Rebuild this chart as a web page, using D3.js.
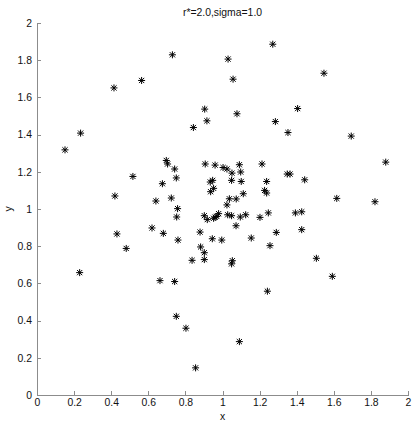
<!DOCTYPE html>
<html>
<head>
<meta charset="utf-8">
<script src="https://cdn.jsdelivr.net/npm/d3@7"></script>
<style>
  body { margin: 0; background: #fff; }
  svg text { font-family: "Liberation Sans", Arial, sans-serif; fill: #111; }
  .axis path, .axis line { stroke: #8c8c8c; shape-rendering: crispEdges; }
  .axis text { font-size: 10.4px; }
</style>
</head>
<body>
<div id="chart"></div>
<script>
// scatter points
const xs = [1.271, 0.730, 1.030, 1.547, 0.564, 1.057, 0.415, 0.904, 1.405, 0.843,
  0.916, 1.078, 1.285, 1.353, 1.694, 0.235, 0.151, 1.880, 0.697, 0.704,
  0.742, 0.517, 0.751, 0.676, 0.420, 0.724, 0.641, 0.758, 0.753, 0.620,
  0.431, 0.681, 0.760, 0.481, 0.907, 0.960, 1.003, 1.024, 1.051, 1.091,
  1.098, 1.213, 1.349, 1.364, 0.934, 0.947, 1.049, 1.101, 1.238, 0.936,
  0.952, 1.227, 1.238, 1.112, 1.037, 1.074, 1.024, 1.393, 1.427, 1.427,
  1.247, 1.202, 1.125, 1.096, 1.049, 1.028, 1.073, 0.902, 0.918, 0.960,
  0.969, 0.979, 0.952, 0.879, 0.945, 0.996, 1.155, 0.882, 0.902, 1.290,
  1.256, 1.443, 1.616, 1.822, 1.506, 0.836, 0.902, 1.053, 1.049, 0.230,
  0.663, 0.742, 1.592, 1.242, 0.751, 0.803, 1.091, 0.855];
const ys = [1.886, 1.829, 1.806, 1.730, 1.691, 1.698, 1.651, 1.537, 1.540, 1.438,
  1.474, 1.512, 1.470, 1.411, 1.392, 1.408, 1.318, 1.252, 1.261, 1.242,
  1.215, 1.175, 1.167, 1.136, 1.070, 1.059, 1.043, 1.002, 0.957, 0.898,
  0.866, 0.869, 0.833, 0.788, 1.242, 1.236, 1.223, 1.215, 1.193, 1.238,
  1.199, 1.242, 1.188, 1.188, 1.145, 1.154, 1.154, 1.148, 1.148, 1.093,
  1.111, 1.100, 1.086, 1.082, 1.055, 1.054, 1.022, 0.979, 0.985, 0.889,
  0.979, 0.955, 0.969, 0.957, 0.964, 0.969, 0.910, 0.964, 0.943, 0.956,
  0.960, 0.975, 0.950, 0.876, 0.840, 0.833, 0.844, 0.796, 0.765, 0.874,
  0.803, 1.157, 1.057, 1.039, 0.735, 0.724, 0.728, 0.722, 0.705, 0.658,
  0.615, 0.610, 0.638, 0.558, 0.423, 0.359, 0.287, 0.146];
const xTicks = [0, 0.2, 0.4, 0.6, 0.8, 1, 1.2, 1.4, 1.6, 1.8, 2];
const yTicks = [0, 0.2, 0.4, 0.6, 0.8, 1, 1.2, 1.4, 1.6, 1.8, 2];
const title = 'r*=2.0,sigma=1.0';

const W = 415, H = 426;
const marg = { left: 37, right: 7, top: 23, bot: 31 };

const svg = d3.select('#chart').append('svg')
  .attr('width', W).attr('height', H);

const x = d3.scaleLinear().domain([0, 2]).range([marg.left, W - marg.right]);
const y = d3.scaleLinear().domain([0, 2]).range([H - marg.bot, marg.top]);

const fmt = d => String(d);

svg.append('g')
  .attr('class', 'axis')
  .attr('transform', 'translate(0,' + (H - marg.bot) + ')')
  .call(d3.axisBottom(x).tickValues(xTicks).tickFormat(fmt).tickSizeInner(-4).tickSizeOuter(0).tickPadding(4));

svg.append('g')
  .attr('class', 'axis')
  .attr('transform', 'translate(' + marg.left + ',0)')
  .call(d3.axisLeft(y).tickValues(yTicks).tickFormat(fmt).tickSizeInner(-4).tickSizeOuter(0).tickPadding(5));

svg.selectAll('.axis text').attr('fill', '#111');

// asterisk marker: + and x overlaid
const r = 3.5, rd = 2.6;
const star = 'M' + (-r) + ',0H' + r + 'M0,' + (-r) + 'V' + r +
  'M' + (-rd) + ',' + (-rd) + 'L' + rd + ',' + rd +
  'M' + (-rd) + ',' + rd + 'L' + rd + ',' + (-rd);

svg.append('g')
  .selectAll('path')
  .data(xs.map((v, i) => [v, ys[i]]))
  .enter()
  .append('path')
  .attr('transform', d => 'translate(' + x(d[0]) + ',' + y(d[1]) + ')')
  .attr('d', star)
  .attr('stroke', '#000')
  .attr('stroke-width', 1)
  .attr('fill', 'none');

svg.append('text')
  .attr('x', (x(0) + x(2)) / 2)
  .attr('y', 16)
  .attr('text-anchor', 'middle')
  .style('font-size', '10.4px')
  .text(title);

svg.append('text')
  .attr('x', (x(0) + x(2)) / 2)
  .attr('y', 420)
  .attr('text-anchor', 'middle')
  .style('font-size', '10.4px')
  .text('x');

svg.append('text')
  .attr('transform', 'translate(12,' + y(1) + ') rotate(-90)')
  .attr('text-anchor', 'middle')
  .style('font-size', '10.4px')
  .text('y');
</script>
</body>
</html>
